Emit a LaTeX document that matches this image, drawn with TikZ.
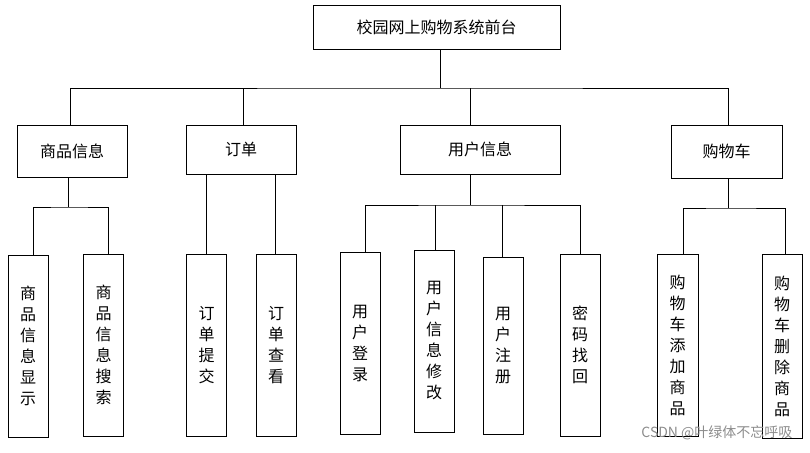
\documentclass[tikz,border=0pt]{standalone}
\usepackage{fontspec}
\newfontfamily\cjk{Noto Sans CJK SC}
\usetikzlibrary{positioning, calc}

\tikzset{
  box/.style={draw, semithick, inner sep=0pt, font=\cjk\fontsize{16}{18}\selectfont},
  tall/.style={box, minimum width=40pt, minimum height=182pt, align=center,
    font=\cjk\fontsize{16}{21}\selectfont},
  link/.style={semithick}
}

\begin{document}
\begin{tikzpicture}[x=1pt, y=-1pt]
\useasboundingbox (0,0) rectangle (810,452);

% Root
\node[box, minimum width=247pt, minimum height=44pt] (root) at (436.5,27) {校园网上购物系统前台};

% Second level
\node[box, minimum width=110pt, minimum height=52pt] (goods) at (72,151) {商品信息};
\node[box, minimum width=110pt, minimum height=49pt] (order) at (241,149.5) {订单};
\node[box, minimum width=160pt, minimum height=49pt] (user) at (480,149.5) {用户信息};
\node[box, minimum width=111pt, minimum height=53pt] (cart) at (726.5,151.5) {购物车};

% Third level
\node[tall] (gshow) at (28,346) {商\\品\\信\\息\\显\\示};
\node[tall] (gfind) at (103.5,345) {商\\品\\信\\息\\搜\\索};
\node[tall] (osub) at (206.5,345.5) {订\\单\\提\\交};
\node[tall] (oview) at (276,345.5) {订\\单\\查\\看};
\node[tall] (ulog) at (360,343) {用\\户\\登\\录};
\node[tall] (umod) at (434,341) {用\\户\\信\\息\\修\\改};
\node[tall, minimum height=177pt] (ureg) at (503,345.5) {用\\户\\注\\册};
\node[tall] (upwd) at (580,345) {密\\码\\找\\回};
\node[tall, minimum width=41pt] (cadd) at (677.5,345) {购\\物\\车\\添\\加\\商\\品};
\node[tall, minimum height=184pt] (cdel) at (782,346) {购\\物\\车\\删\\除\\商\\品};

% Root branches
\coordinate (bus) at (440,88);
\draw[link] (root.south -| bus) -- (bus);
\draw[link] (goods.north -| 70,0) |- (bus) -| (cart.north -| 728,0);
\draw[link] (order.north -| 243,0) -- ++(0,-37);
\draw[link] (user.north -| 470,0) -- ++(0,-37);

% Goods branches
\coordinate (gj) at (68,207);
\draw[link] (goods.south -| gj) -- (gj);
\draw[link] (gshow.north -| 33,0) |- (gj) -| (gfind.north -| 108,0);

% Order branches
\draw[link] (order.south -| 206,0) -- (osub.north -| 206,0);
\draw[link] (order.south -| 275,0) -- (oview.north -| 275,0);

% User branches
\coordinate (uj) at (470,205);
\draw[link] (user.south -| uj) -- (uj);
\draw[link] (ulog.north -| 365,0) |- (uj) -| (upwd.north -| 580,0);
\draw[link] (umod.north -| 435,0) -- (435,205);
\draw[link] (ureg.north -| 502,0) -- (502,205);

% Cart branches
\coordinate (cj) at (728,208);
\draw[link] (cart.south -| cj) -- (cj);
\draw[link] (cadd.north -| 683,0) |- (cj) -| (cdel.north -| 785,0);

% Watermark
\node[text=gray!90, font=\cjk\fontsize{14}{16}\selectfont, anchor=east] (mark) at (796,433) {CSDN @叶绿体不忘呼吸};
\end{tikzpicture}
\end{document}
